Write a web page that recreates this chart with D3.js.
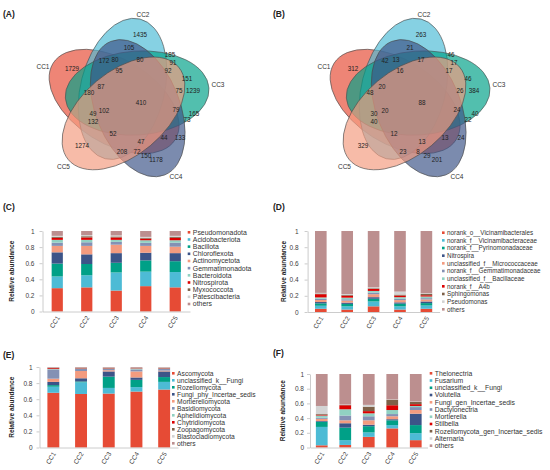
<!DOCTYPE html>
<html>
<head>
<meta charset="utf-8">
<script src="https://cdn.jsdelivr.net/npm/d3@7"></script>
<style>
  body { margin: 0; background: #fff; }
  svg { font-family: "Liberation Sans", Arial, sans-serif; }
  .axis path, .axis line { stroke: #bfbfbf; stroke-width: 0.8; }
  .axis text { fill: #404040; font-size: 6.5px; }
</style>
</head>
<body>
<svg id="fig" width="550" height="470"></svg>
<script>
// Samples and shared ticks
const samples = ["CC1", "CC2", "CC3", "CC4", "CC5"];
const yTicks = [0, 0.2, 0.4, 0.6, 0.8, 1];
const palette = ["#E64B35", "#4DBBD5", "#00A087", "#3C5488", "#F39B7F",
                 "#8491B4", "#91D1C2", "#DC0000", "#7E6148", "#D3D3D3", "#BC8F8F"];

// Venn counts, 31 regions (same order as regionXY below)
const vennBacteria = [1435, 105, 185, 91, 172, 80, 80, 1729, 95, 92, 151, 75, 1239, 180, 87,
                      410, 102, 49, 132, 79, 165, 73, 52, 47, 44, 133, 1274, 208, 72, 150, 1178];
const vennFungi = [263, 21, 46, 17, 42, 13, 17, 312, 16, 17, 46, 26, 384, 48, 20,
                   88, 20, 30, 40, 24, 40, 22, 12, 13, 13, 24, 329, 23, 8, 29, 201];

// (C) bacteria, phylum level: rows = taxa, columns = CC1..CC5
const bacPhyla = ["Pseudomonadota", "Acidobacteriota", "Bacillota", "Chloroflexota", "Actinomycetota",
                  "Gemmatimonadota", "Bacteroidota", "Nitrospirota", "Myxococcota", "Patescibacteria", "others"];
const bacPhylaAbund = [
  [0.29, 0.30, 0.26, 0.315, 0.30],
  [0.145, 0.15, 0.225, 0.18, 0.19],
  [0.16, 0.14, 0.12, 0.14, 0.135],
  [0.14, 0.12, 0.12, 0.095, 0.10],
  [0.08, 0.105, 0.105, 0.085, 0.08],
  [0.04, 0.045, 0.035, 0.038, 0.05],
  [0.035, 0.03, 0.025, 0.032, 0.03],
  [0.025, 0.03, 0.03, 0.02, 0.03],
  [0.012, 0.015, 0.012, 0.01, 0.012],
  [0.013, 0.015, 0.013, 0.012, 0.013],
  [0.06, 0.05, 0.055, 0.073, 0.06]
];

// (D) bacteria, genus level
const bacGenera = ["norank_o__Vicinamibacterales", "norank_f__Vicinamibacteraceae", "norank_f__Pyrinomonadaceae",
                   "Nitrospira", "unclassified_f__Micrococcaceae", "norank_f__Gemmatimonadaceae",
                   "unclassified_f__Bacillaceae", "norank_f__A4b", "Sphingomonas", "Pseudomonas", "others"];
const bacGeneraAbund = [
  [0.04, 0.03, 0.07, 0.03, 0.04],
  [0.037, 0.04, 0.06, 0.04, 0.04],
  [0.03, 0.03, 0.033, 0.033, 0.03],
  [0.016, 0.016, 0.02, 0.016, 0.02],
  [0.025, 0.025, 0.037, 0.028, 0.025],
  [0.016, 0.016, 0.02, 0.016, 0.016],
  [0.016, 0.02, 0.02, 0.02, 0.02],
  [0.04, 0.025, 0.025, 0.02, 0.016],
  [0.008, 0.008, 0.008, 0.012, 0.016],
  [0.008, 0.012, 0.012, 0.037, 0.008],
  [0.764, 0.778, 0.695, 0.748, 0.769]
];

// (E) fungi, phylum level
const fungPhyla = ["Ascomycota", "unclassified_k__Fungi", "Rozellomycota", "Fungi_phy_Incertae_sedis",
                   "Mortierellomycota", "Basidiomycota", "Aphelidiomycota", "Chytridiomycota",
                   "Zoopagomycota", "Blastocladiomycota", "others"];
const fungPhylaAbund = [
  [0.68, 0.665, 0.67, 0.695, 0.72],
  [0.075, 0.145, 0.07, 0.055, 0.095],
  [0.02, 0.01, 0.14, 0.09, 0.06],
  [0.04, 0.04, 0.065, 0.03, 0.07],
  [0.04, 0.09, 0.015, 0.075, 0.01],
  [0.115, 0.025, 0.015, 0.025, 0.02],
  [0.005, 0.005, 0.005, 0.005, 0.005],
  [0.01, 0.005, 0.005, 0.005, 0.005],
  [0.005, 0.005, 0.005, 0.005, 0.005],
  [0.003, 0.002, 0.003, 0.005, 0.005],
  [0.007, 0.008, 0.007, 0.01, 0.005]
];

// (F) fungi, genus level
const fungGenera = ["Thelonectria", "Fusarium", "unclassified_k__Fungi", "Volutella", "Fungi_gen_Incertae_sedis",
                    "Dactylonectria", "Mortierella", "Stilbella", "Rozellomycota_gen_Incertae_sedis",
                    "Alternaria", "others"];
const fungGeneraAbund = [
  [0.03, 0.035, 0.145, 0.26, 0.10],
  [0.25, 0.065, 0.06, 0.045, 0.095],
  [0.07, 0.17, 0.085, 0.065, 0.11],
  [0.01, 0.06, 0.02, 0.015, 0.155],
  [0.03, 0.04, 0.06, 0.04, 0.05],
  [0.015, 0.065, 0.055, 0.03, 0.04],
  [0.03, 0.085, 0.04, 0.055, 0.015],
  [0.01, 0.055, 0.03, 0.065, 0.025],
  [0.01, 0.005, 0.06, 0.075, 0.03],
  [0.11, 0.005, 0.025, 0.005, 0.005],
  [0.435, 0.415, 0.42, 0.345, 0.375]
];

const svg = d3.select("#fig");
svg.append("rect").attr("width", 550).attr("height", 470).attr("fill", "#fff");

// ---------- VENN ----------
// geometry of the 5 ellipses (panel A coordinates)
const venn = { ox: 127, oy: 101, R: 83, A: 72, B: 42, tilt: 5, tau0: 207 };
// where each region count sits, panel A coordinates
const regionXY = [[140,35],[129,48],[170,55],[173,63],[104,61],[115,60],[140,60],[72,69],[119,71],[168,71],
                  [187,79],[179,91],[193,91],[89,93],[101,87],[141,103],[104,111],[93,114],[93,122],[176,110],
                  [194,114],[187,120],[113,134],[141,142],[164,138],[180,138],[82,146],[122,152],[137,152],
                  [146,156],[156,160]];
const setLabelXY = [[43,67],[143,15],[218,85],[176,177],[63.5,167]];

function ellipseOf(i) {
  const tau = (venn.tau0 + 72 * i) * Math.PI / 180;
  const ax = tau + venn.tilt * Math.PI / 180;
  const tipX = venn.ox + venn.R * Math.cos(tau);
  const tipY = venn.oy + venn.R * Math.sin(tau);
  return { cx: tipX - venn.A * Math.cos(ax), cy: tipY - venn.A * Math.sin(ax), rot: ax * 180 / Math.PI };
}

function drawVenn(counts, dx) {
  const g = svg.append("g").attr("transform", `translate(${dx},0)`);
  const ell = samples.map((s, i) => ellipseOf(i));

  g.selectAll("ellipse")
    .data(ell)
    .join("ellipse")
      .attr("rx", venn.A)
      .attr("ry", venn.B)
      .attr("transform", d => `translate(${d.cx},${d.cy}) rotate(${d.rot})`)
      .attr("fill", (d, i) => palette[i])
      .attr("fill-opacity", 0.68)
      .attr("stroke", "#4a4a4a")
      .attr("stroke-width", 0.6);

  g.selectAll("text.count")
    .data(counts)
    .join("text")
      .attr("class", "count")
      .attr("x", (d, i) => regionXY[i][0])
      .attr("y", (d, i) => regionXY[i][1])
      .attr("dy", "0.35em")
      .attr("text-anchor", "middle")
      .attr("font-size", 6.3)
      .attr("fill", "#222")
      .text(d => d);

  g.selectAll("text.set")
    .data(samples)
    .join("text")
      .attr("class", "set")
      .attr("x", (d, i) => setLabelXY[i][0])
      .attr("y", (d, i) => setLabelXY[i][1])
      .attr("dy", "0.35em")
      .attr("text-anchor", "middle")
      .attr("font-size", 6.5)
      .attr("fill", "#333")
      .text(d => d);
}

drawVenn(vennBacteria, 0);
drawVenn(vennFungi, 281);

// ---------- STACKED BARS ----------
function drawStack(cfg) {
  const rows = samples.map((s, j) => {
    const r = { sample: s };
    cfg.taxa.forEach((t, i) => r[t] = cfg.values[i][j]);
    return r;
  });
  const series = d3.stack().keys(cfg.taxa)(rows);

  const x = d3.scaleBand()
    .domain(samples)
    .range(cfg.xRange)
    .paddingInner(cfg.pad)
    .paddingOuter(cfg.pad / 2);
  const y = d3.scaleLinear().domain([0, 1]).range(cfg.yRange);

  const g = svg.append("g");

  g.selectAll("g.layer")
    .data(series)
    .join("g")
      .attr("class", "layer")
      .attr("fill", (d, i) => palette[i])
    .selectAll("rect")
    .data(d => d)
    .join("rect")
      .attr("x", d => x(d.data.sample))
      .attr("width", x.bandwidth())
      .attr("y", d => y(d[1]))
      .attr("height", d => y(d[0]) - y(d[1]));

  // Y axis
  g.append("g")
    .attr("class", "axis")
    .attr("transform", `translate(${cfg.xRange[0]},0)`)
    .call(d3.axisLeft(y).tickValues(yTicks).tickFormat(d => String(d))
      .tickSize(3).tickSizeOuter(0).tickPadding(cfg.tickPad));

  // X axis with slanted labels
  const xa = g.append("g")
    .attr("class", "axis")
    .attr("transform", `translate(0,${cfg.yRange[0]})`)
    .call(d3.axisBottom(x).tickSize(0).tickSizeOuter(0));
  xa.selectAll("text")
    .attr("x", 0)
    .attr("y", 0)
    .attr("dy", "0.35em")
    .attr("text-anchor", "end")
    .attr("transform", "translate(1,5) rotate(-58)");

  // Y title
  g.append("text")
    .attr("transform", `translate(${cfg.titleX},${(cfg.yRange[0] + cfg.yRange[1]) / 2}) rotate(-90)`)
    .attr("text-anchor", "middle")
    .attr("dy", "0.35em")
    .attr("font-size", 6.5)
    .attr("font-weight", "bold")
    .attr("fill", "#222")
    .text("Relative abundance");

  // Legend
  const lg = g.append("g");
  lg.selectAll("rect")
    .data(cfg.taxa)
    .join("rect")
      .attr("x", cfg.legendX - 1.3)
      .attr("y", (d, i) => cfg.legendY + i * cfg.legendStep - 1.3)
      .attr("width", 2.6)
      .attr("height", 2.6)
      .attr("fill", (d, i) => palette[i]);
  lg.selectAll("text")
    .data(cfg.taxa)
    .join("text")
      .attr("x", cfg.legendX + 3.8)
      .attr("y", (d, i) => cfg.legendY + i * cfg.legendStep)
      .attr("dy", "0.35em")
      .attr("font-size", cfg.legendFont)
      .attr("fill", "#333")
      .text(d => d);
}

drawStack({ taxa: bacPhyla, values: bacPhylaAbund, xRange: [42.5, 190], pad: 0.62,
            yRange: [311.5, 231], tickPad: 5, titleX: 12,
            legendX: 189, legendY: 232.3, legendStep: 7.17, legendFont: 6.9 });
drawStack({ taxa: bacGenera, values: bacGeneraAbund, xRange: [307.6, 439.6], pad: 0.56,
            yRange: [312, 231], tickPad: 6, titleX: 283.5,
            legendX: 443.3, legendY: 232.7, legendStep: 7.66, legendFont: 6.3 });
drawStack({ taxa: fungPhyla, values: fungPhylaAbund, xRange: [39.5, 178], pad: 0.57,
            yRange: [447.5, 367], tickPad: 4, titleX: 12,
            legendX: 173.3, legendY: 373.3, legendStep: 7.0, legendFont: 6.7 });
drawStack({ taxa: fungGenera, values: fungGeneraAbund, xRange: [310, 427.5], pad: 0.5,
            yRange: [447.5, 374], tickPad: 3, titleX: 282.5,
            legendX: 431, legendY: 373.3, legendStep: 7.24, legendFont: 6.8 });

// Panel letters
const panelLetters = ["(A)", "(B)", "(C)", "(D)", "(E)", "(F)"];
const letterXY = [[3, 16.5], [273, 16.5], [3, 209.5], [273, 209.5], [3, 358], [273, 355.5]];
svg.selectAll("text.panel")
  .data(panelLetters)
  .join("text")
    .attr("class", "panel")
    .attr("x", (d, i) => letterXY[i][0])
    .attr("y", (d, i) => letterXY[i][1])
    .attr("font-size", 8.5)
    .attr("font-weight", "bold")
    .attr("fill", "#222")
    .text(d => d);
</script>
</body>
</html>
